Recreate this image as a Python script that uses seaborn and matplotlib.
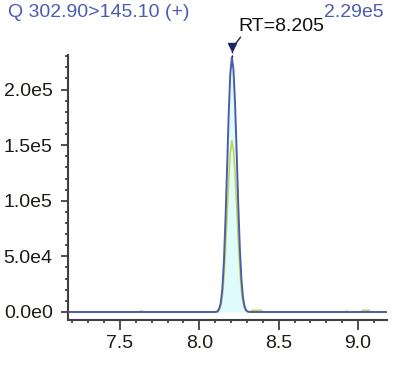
import matplotlib
matplotlib.use('Agg')
import matplotlib.pyplot as plt
import seaborn as sns
import pandas as pd

# chromatogram data (retention time in min, intensity in counts)
rt_main = [7.17, 8.10, 8.115, 8.125, 8.135, 8.145, 8.155, 8.165, 8.175,
           8.185, 8.195, 8.205, 8.215, 8.225, 8.235, 8.245, 8.255, 8.265,
           8.275, 8.285, 8.295, 8.305, 8.32, 9.18]
int_main = [0, 0, 600, 3000, 8000, 21000, 46000, 84000, 130000,
            178000, 214000, 229000, 218000, 188000, 145000, 98000, 58000,
            30000, 13000, 5000, 1500, 300, 0, 0]

rt_qual = [7.17, 7.62, 7.635, 7.65, 8.115, 8.125, 8.135, 8.145, 8.155,
           8.165, 8.175, 8.185, 8.195, 8.205, 8.215, 8.225, 8.235, 8.245,
           8.255, 8.265, 8.275, 8.285, 8.295, 8.32, 8.33, 8.39, 8.40,
           8.92, 8.93, 8.94, 9.02, 9.03, 9.07, 9.08, 9.18]
int_qual = [0, 0, 1200, 0, 0, 2000, 5400, 14000, 31000,
            56000, 87000, 119000, 143000, 154000, 146000, 126000, 97000, 66000,
            39000, 20000, 9000, 3500, 1000, 0, 1500, 1500, 0,
            0, 1000, 0, 0, 1500, 1500, 0, 0]

peak_rt = 8.205
peak_height = 229000
x_ticks = [7.5, 8.0, 8.5, 9.0]
y_ticks = [0, 50000, 100000, 150000, 200000]
y_labels = ['0.0e0', '5.0e4', '1.0e5', '1.5e5', '2.0e5']

main_df = pd.DataFrame({'rt': rt_main, 'intensity': int_main})
qual_df = pd.DataFrame({'rt': rt_qual, 'intensity': int_qual})

sns.set_style('ticks')
plt.rcParams['font.family'] = ['Liberation Sans', 'DejaVu Sans']

fig = plt.figure(figsize=(4.0, 3.69), dpi=100)
ax = fig.add_axes([0.17, 0.1328, 0.7975, 0.718])

blue = '#4a5fa8'
ax.fill_between(main_df['rt'], main_df['intensity'], 0, color='#e0fbfb',
                linewidth=0, zorder=1)
sns.lineplot(data=qual_df, x='rt', y='intensity', ax=ax, color='#c3d35a',
             linewidth=1.2, zorder=2, estimator=None, sort=False)
sns.lineplot(data=main_df, x='rt', y='intensity', ax=ax, color=blue,
             linewidth=1.4, zorder=3, estimator=None, sort=False)

ax.set_xlim(7.172, 9.183)
ax.set_ylim(-7200, 231000)
ax.set_xlabel('')
ax.set_ylabel('')

ax.set_xticks(x_ticks)
ax.set_xticklabels([f'{t:.1f}' for t in x_ticks])
ax.set_xticks([7.2 + 0.1 * i for i in range(20)], minor=True)
ax.set_yticks(y_ticks)
ax.set_yticklabels(y_labels)
ax.set_yticks([10000 * i for i in range(24)], minor=True)

ax.tick_params(axis='both', which='major', labelsize=14, colors='#333333',
               labelcolor='#1e1a16', width=1.2)
ax.tick_params(axis='x', which='major', length=7, pad=4)
ax.tick_params(axis='y', which='major', length=5, pad=6)
ax.tick_params(axis='both', which='minor', length=2.2, width=1.2,
               colors='#333333')

sns.despine(ax=ax)
for side in ['left', 'bottom']:
    ax.spines[side].set_linewidth(1.5)
    ax.spines[side].set_color('#404040')

# peak apex marker and annotation
ax.plot([peak_rt, peak_rt], [peak_height, 235000], color='#1c2566',
        linewidth=1, linestyle=(0, (1.5, 1.5)), clip_on=False, zorder=4)
ax.plot([peak_rt], [238000], marker='v', color='#1c2566', markersize=6,
        clip_on=False, zorder=5)
ax.plot([8.231, 8.26], [241700, 247100], color='#222222', linewidth=1,
        clip_on=False)
ax.text(8.243, 252200, 'RT=8.205', fontsize=14, color='#111111',
        va='baseline', ha='left', clip_on=False)

fig.text(0.02, 0.965, 'Q 302.90>145.10 (+)', fontsize=14, color='#4b5db0',
         ha='left', va='center')
fig.text(0.96, 0.965, '2.29e5', fontsize=14, color='#4b5db0',
         ha='right', va='center')

fig.savefig('out.png', dpi=100)
